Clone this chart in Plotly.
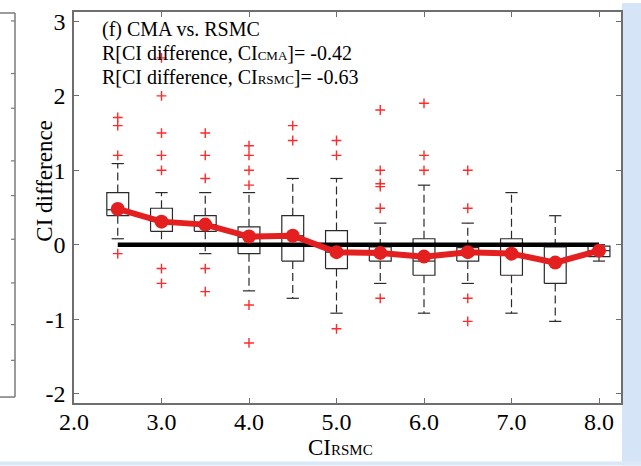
import plotly.graph_objects as go

# ---------------- data ----------------
ci_bins = [2.5, 3.0, 3.5, 4.0, 4.5, 5.0, 5.5, 6.0, 6.5, 7.0, 7.5, 8.0]
q3 = [0.70, 0.49, 0.39, 0.24, 0.39, 0.19, -0.03, 0.08, -0.04, 0.08, -0.03, -0.02]
q1 = [0.39, 0.18, 0.18, -0.12, -0.22, -0.32, -0.22, -0.41, -0.22, -0.41, -0.52, -0.16]
medians = [0.47, 0.32, 0.27, 0.10, 0.12, -0.10, -0.10, -0.22, -0.10, -0.12, -0.24, -0.08]
upper_whisker = [1.09, 0.70, 0.70, 0.70, 0.89, 0.89, 0.29, 0.80, 0.29, 0.70, 0.39, 0.00]
lower_whisker = [0.08, -0.01, -0.12, -0.62, -0.72, -0.92, -0.52, -0.92, -0.52, -0.92, -1.03, -0.22]
means = [0.48, 0.31, 0.27, 0.11, 0.12, -0.10, -0.11, -0.16, -0.10, -0.12, -0.24, -0.08]
outliers = [
    [1.71, 1.60, 1.20, -0.12],
    [2.51, 2.00, 1.50, 1.20, 1.00, -0.32, -0.52],
    [1.50, 1.20, 0.89, -0.32, -0.63],
    [1.33, 1.20, 1.00, 0.80, -0.81, -1.32],
    [1.60, 1.40],
    [1.40, 1.20, -1.13],
    [1.81, 1.00, 0.82, 0.78, 0.49, -0.72],
    [1.90, 1.20, 1.00],
    [1.00, 0.49, -0.72, -1.03],
    [],
    [],
    [],
]
x_ticks = [2.0, 3.0, 4.0, 5.0, 6.0, 7.0, 8.0]
y_ticks = [-2, -1, 0, 1, 2, 3]
r_cma = -0.42
r_rsmc = -0.63

# ---------------- geometry ----------------
W, H = 641, 466
L, R, T, B = 74, 621, 9, 403
BOX_HW = 0.125
CAP_HW = 0.07
FONT = "Liberation Serif"
RED = "#e41f1f"
BOXC = "#2a2a2a"


def px(x):
    return (x - L) / (R - L)


def py(y):
    return (B - y) / (B - T)


# box rectangles, medians, whiskers, caps
bx, by, mx, my, wx, wy, cx, cy = [], [], [], [], [], [], [], []
for i, c in enumerate(ci_bins):
    bx += [c - BOX_HW, c + BOX_HW, c + BOX_HW, c - BOX_HW, c - BOX_HW, None]
    by += [q1[i], q1[i], q3[i], q3[i], q1[i], None]
    mx += [c - BOX_HW, c + BOX_HW, None]
    my += [medians[i], medians[i], None]
    wx += [c, c, None, c, c, None]
    wy += [q3[i], upper_whisker[i], None, q1[i], lower_whisker[i], None]
    cx += [c - CAP_HW, c + CAP_HW, None, c - CAP_HW, c + CAP_HW, None]
    cy += [upper_whisker[i], upper_whisker[i], None, lower_whisker[i], lower_whisker[i], None]

ox, oy = [], []
for c, vals in zip(ci_bins, outliers):
    for v in vals:
        ox.append(c)
        oy.append(v)

fig = go.Figure()
fig.add_trace(go.Scatter(x=wx, y=wy, mode="lines", line=dict(color=BOXC, width=1.2, dash="8px,4px"), hoverinfo="skip"))
fig.add_trace(go.Scatter(x=cx, y=cy, mode="lines", line=dict(color=BOXC, width=1.2), hoverinfo="skip"))
fig.add_trace(go.Scatter(x=bx, y=by, mode="lines", line=dict(color=BOXC, width=1.2), hoverinfo="skip"))
fig.add_trace(go.Scatter(x=mx, y=my, mode="lines", line=dict(color=BOXC, width=1.2), hoverinfo="skip"))
fig.add_trace(go.Scatter(x=ox, y=oy, mode="markers",
                         marker=dict(symbol="cross-thin", size=7, line=dict(color="#ff2a2a", width=1.4))))
fig.add_trace(go.Scatter(x=[ci_bins[0], ci_bins[-1]], y=[0, 0], mode="lines",
                         line=dict(color="black", width=4.5)))
fig.add_trace(go.Scatter(x=ci_bins, y=means, mode="lines+markers",
                         line=dict(color=RED, width=6), marker=dict(color=RED, size=14)))

axis_common = dict(showgrid=False, zeroline=False, showline=True, linecolor="#6e6e6e", linewidth=1.5,
                   mirror="allticks", ticks="inside", ticklen=5, tickcolor="#6e6e6e", tickwidth=1.2,
                   tickfont=dict(family=FONT, size=24, color="black"))

fig.update_xaxes(range=[2.0, 2.0 + (R - L) / 87.5], tickvals=x_ticks,
                 ticktext=[f"{v:.1f}" for v in x_ticks], ticklabelstandoff=-4, **axis_common)
fig.update_yaxes(range=[-(B - 243.5) / 75, (243.5 - T) / 75], tickvals=y_ticks,
                 ticktext=[str(v) for v in y_ticks], ticklabelstandoff=2, **axis_common)

annotations = [
    dict(x=px(100), y=py(27), text="(f) CMA vs. RSMC"),
    dict(x=px(100), y=py(50),
         text=f"R[CI difference, CI<span style='font-size:13px'>CMA</span>]= {r_cma:.2f}"),
    dict(x=px(100), y=py(75),
         text=f"R[CI difference, CI<span style='font-size:13px'>RSMC</span>]= {r_rsmc:.2f}"),
]
for a in annotations:
    a.update(xref="paper", yref="paper", xanchor="left", yanchor="middle", showarrow=False,
             font=dict(family=FONT, size=20, color="black"))
annotations.append(dict(x=px(45), y=py(179), xref="paper", yref="paper", text="CI difference",
                        textangle=-90, showarrow=False, xanchor="center", yanchor="middle",
                        font=dict(family=FONT, size=23, color="black")))
annotations.append(dict(x=px(340), y=py(448), xref="paper", yref="paper",
                        text="CI<span style='font-size:15px'>RSMC</span>",
                        showarrow=False, xanchor="center", yanchor="middle",
                        font=dict(family=FONT, size=23, color="black")))

shapes = [
    # right light-blue background strip
    dict(type="rect", xref="paper", yref="paper", x0=px(622), x1=px(641), y0=py(466), y1=py(0),
         fillcolor="#d5e4f7", line=dict(width=0), layer="below"),
    dict(type="rect", xref="paper", yref="paper", x0=px(0), x1=px(641), y0=py(466), y1=py(462),
         fillcolor="#dbe8f8", line=dict(width=0), layer="below"),
    # neighbouring panel border on the left
    dict(type="line", xref="paper", yref="paper", x0=px(15), x1=px(15), y0=py(10), y1=py(397),
         line=dict(color="#7a7a7a", width=1.5)),
    dict(type="line", xref="paper", yref="paper", x0=px(0), x1=px(15), y0=py(10), y1=py(10),
         line=dict(color="#7a7a7a", width=1.5)),
    dict(type="line", xref="paper", yref="paper", x0=px(0), x1=px(15), y0=py(397), y1=py(397),
         line=dict(color="#7a7a7a", width=1.5)),
]
for ty in [18, 71, 106, 159, 194, 238, 282, 324, 360]:
    shapes.append(dict(type="line", xref="paper", yref="paper", x0=px(11), x1=px(15), y0=py(ty), y1=py(ty),
                       line=dict(color="#7a7a7a", width=1.2)))

fig.update_layout(width=W, height=H, margin=dict(l=L, r=W - R, t=T, b=H - B),
                  paper_bgcolor="white", plot_bgcolor="white", showlegend=False,
                  annotations=annotations, shapes=shapes)

fig.write_html("out.html")
